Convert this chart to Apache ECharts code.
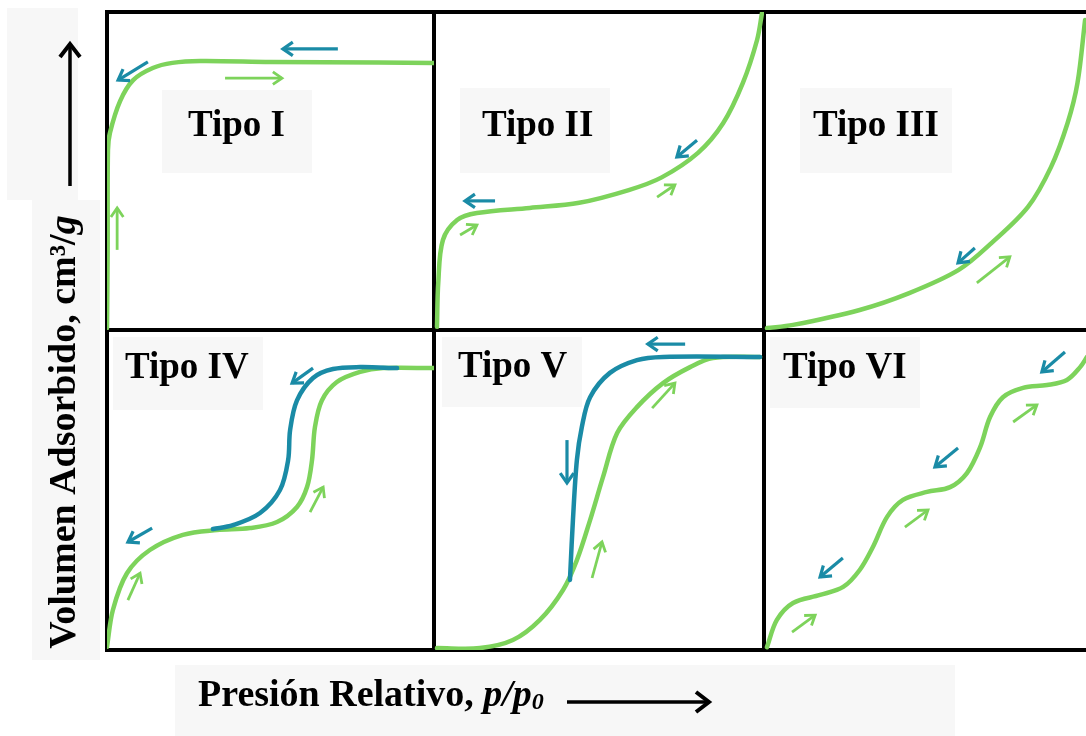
<!DOCTYPE html>
<html><head><meta charset="utf-8">
<script src="https://cdn.jsdelivr.net/npm/echarts@6/dist/echarts.min.js"></script>
<style>html,body{margin:0;padding:0;background:#fff;overflow:hidden;width:1086px;height:736px}#c{width:1100px;height:736px}</style>
</head><body><div id="c"></div>
<script>
// ---------- DATA ----------
const panelNames = ['Tipo I', 'Tipo II', 'Tipo III', 'Tipo IV', 'Tipo V', 'Tipo VI'];
const xTitleMain = 'Presión Relativo, ';
const xTitleItalic = 'p/p';
const xTitleSub = '0';
const yTitleMain = 'Volumen Adsorbido, cm³/';
const yTitleItalic = 'g';

// adsorption curves (green), [p/p0, volume] normalised 0..1
const adsI = [[0,0.006],[0.002,0.25],[0.003,0.566],[0.009,0.62],[0.04,0.72],[0.08,0.786],[0.14,0.824],[0.2,0.84],[0.285,0.846],[0.5,0.843],[1,0.84]];
const adsII = [[0.009,0.01],[0.013,0.15],[0.027,0.283],[0.07,0.346],[0.13,0.368],[0.29,0.384],[0.44,0.40],[0.59,0.44],[0.69,0.48],[0.80,0.557],[0.876,0.65],[0.936,0.777],[0.979,0.912],[0.994,0.997]];
const adsIII = [[0.009,0.006],[0.088,0.016],[0.29,0.063],[0.44,0.116],[0.59,0.189],[0.69,0.274],[0.80,0.387],[0.87,0.513],[0.92,0.651],[0.95,0.777],[0.973,0.975]];
const adsIV = [[0,0.01],[0.018,0.125],[0.061,0.24],[0.131,0.3125],[0.232,0.36],[0.336,0.375],[0.437,0.381],[0.52,0.40],[0.581,0.447],[0.612,0.51],[0.627,0.594],[0.636,0.697],[0.657,0.78],[0.703,0.8375],[0.774,0.869],[0.844,0.881],[1,0.881]];
const adsV = [[0.009,0.006],[0.139,0.006],[0.239,0.031],[0.321,0.094],[0.391,0.1875],[0.433,0.281],[0.473,0.406],[0.512,0.54],[0.555,0.678],[0.615,0.759],[0.694,0.834],[0.776,0.884],[0.845,0.9125],[0.988,0.916]];
const adsVI = [[0.009,0.009],[0.039,0.094],[0.088,0.147],[0.17,0.172],[0.24,0.197],[0.29,0.25],[0.33,0.322],[0.373,0.416],[0.421,0.469],[0.494,0.494],[0.564,0.509],[0.615,0.553],[0.655,0.634],[0.685,0.728],[0.724,0.79],[0.785,0.819],[0.858,0.828],[0.918,0.844],[0.958,0.884],[0.979,0.916]];

// desorption curves (blue)
const desIV = [[0.324,0.378],[0.385,0.39],[0.468,0.428],[0.529,0.50],[0.554,0.594],[0.56,0.6875],[0.581,0.78],[0.63,0.85],[0.691,0.878],[0.774,0.884],[0.887,0.881]];
const desV = [[0.412,0.219],[0.421,0.406],[0.433,0.594],[0.448,0.697],[0.473,0.79],[0.533,0.866],[0.615,0.906],[0.694,0.916],[0.988,0.916]];

// direction arrows [x1, y1, x2, y2] (tail -> head)
const arrAdsI = [[0.361,0.792,0.535,0.792],[0.031,0.252,0.031,0.384]];
const arrDesI = [[0.706,0.884,0.538,0.884],[0.125,0.843,0.034,0.786]];
const arrAdsII = [[0.079,0.299,0.13,0.33],[0.676,0.418,0.73,0.456]];
const arrDesII = [[0.185,0.406,0.094,0.406],[0.797,0.597,0.736,0.544]];
const arrAdsIII = [[0.645,0.148,0.745,0.23]];
const arrDesIII = [[0.639,0.258,0.588,0.211]];
const arrAdsIV = [[0.621,0.431,0.661,0.509],[0.064,0.156,0.101,0.24]];
const arrDesIV = [[0.63,0.881,0.566,0.834],[0.138,0.381,0.064,0.3375]];
const arrAdsV = [[0.661,0.756,0.73,0.834],[0.479,0.225,0.509,0.3375]];
const arrDesV = [[0.761,0.956,0.648,0.956],[0.403,0.656,0.403,0.522]];
const arrAdsVI = [[0.755,0.7125,0.827,0.766],[0.427,0.384,0.497,0.4375],[0.085,0.056,0.155,0.109]];
const arrDesVI = [[0.912,0.931,0.842,0.869],[0.588,0.631,0.518,0.572],[0.239,0.2875,0.17,0.228]];

// ---------- STYLE / LAYOUT ----------
const GREEN = '#7dd35b', BLUE = '#1a8ba6';
const FONT = '"Liberation Serif","Times New Roman",serif';
const colLeft = [107, 434, 764], colWidth = [327, 330, 330];
const rowTop = [12, 330], rowHeight = [318, 320];
const labelPos = [[188,126],[482,126],[813,126],[125,368],[458,367],[783,368]];
const labelBoxes = [[162,90,150,83],[460,88,150,85],[800,88,152,85],[113,337,150,73],[442,337,140,70],[770,337,150,71]];

const panels = [
  {ads: adsI, des: null, aA: arrAdsI, aD: arrDesI},
  {ads: adsII, des: null, aA: arrAdsII, aD: arrDesII},
  {ads: adsIII, des: null, aA: arrAdsIII, aD: arrDesIII},
  {ads: adsIV, des: desIV, aA: arrAdsIV, aD: arrDesIV},
  {ads: adsV, des: desV, aA: arrAdsV, aD: arrDesV},
  {ads: adsVI, des: null, aA: arrAdsVI, aD: arrDesVI}
];

// smooth curve through the data points (chord-scaled cubic Hermite), coords via the axes
function curveRenderer(color, lw) {
  return function (params, api) {
    if (params.dataIndexInside !== 0) return null;
    const n = params.dataInsideLength;
    const P = [];
    for (let k = 0; k < n; k++) P.push(api.coord([api.value(0, k), api.value(1, k)]));
    const dist = (a, b) => Math.hypot(b[0] - a[0], b[1] - a[1]) || 1e-6;
    const tan = [];
    for (let k = 0; k < n; k++) {
      if (k === 0) { const d = dist(P[0], P[1]); tan.push([(P[1][0] - P[0][0]) / d, (P[1][1] - P[0][1]) / d]); }
      else if (k === n - 1) { const d = dist(P[n - 2], P[n - 1]); tan.push([(P[n - 1][0] - P[n - 2][0]) / d, (P[n - 1][1] - P[n - 2][1]) / d]); }
      else {
        const d = dist(P[k - 1], P[k]) + dist(P[k], P[k + 1]);
        tan.push([(P[k + 1][0] - P[k - 1][0]) / d, (P[k + 1][1] - P[k - 1][1]) / d]);
      }
    }
    let d = 'M' + P[0][0].toFixed(2) + ' ' + P[0][1].toFixed(2);
    for (let k = 0; k < n - 1; k++) {
      const s = dist(P[k], P[k + 1]) / 3;
      const c1 = [P[k][0] + tan[k][0] * s, P[k][1] + tan[k][1] * s];
      const c2 = [P[k + 1][0] - tan[k + 1][0] * s, P[k + 1][1] - tan[k + 1][1] * s];
      d += ' C' + c1[0].toFixed(2) + ' ' + c1[1].toFixed(2) + ' ' + c2[0].toFixed(2) + ' ' + c2[1].toFixed(2) + ' ' + P[k + 1][0].toFixed(2) + ' ' + P[k + 1][1].toFixed(2);
    }
    return {type: 'path', shape: {pathData: d}, style: {stroke: color, lineWidth: lw, fill: 'none', lineCap: 'round', lineJoin: 'round'}};
  };
}

function arrowRenderer(color, lw, headLen) {
  return function (params, api) {
    const p1 = api.coord([api.value(0), api.value(1)]);
    const p2 = api.coord([api.value(2), api.value(3)]);
    const ang = Math.atan2(p2[1] - p1[1], p2[0] - p1[0]);
    const a = 0.6;
    const h1 = [p2[0] - headLen * Math.cos(ang - a), p2[1] - headLen * Math.sin(ang - a)];
    const h2 = [p2[0] - headLen * Math.cos(ang + a), p2[1] - headLen * Math.sin(ang + a)];
    return {
      type: 'group',
      children: [
        {type: 'polyline', shape: {points: [p1, p2]}, style: {stroke: color, lineWidth: lw, fill: null}},
        {type: 'polyline', shape: {points: [h1, p2, h2]}, style: {stroke: color, lineWidth: lw, fill: null, lineJoin: 'miter'}}
      ]
    };
  };
}

const grid = [], xAxis = [], yAxis = [], series = [];
panels.forEach((p, i) => {
  const r = Math.floor(i / 3), c = i % 3;
  grid.push({left: colLeft[c], top: rowTop[r], width: colWidth[c], height: rowHeight[r],
    show: true, borderColor: '#000', borderWidth: 4, backgroundColor: 'transparent', containLabel: false});
  xAxis.push({type: 'value', gridIndex: i, min: 0, max: 1, show: false});
  yAxis.push({type: 'value', gridIndex: i, min: 0, max: 1, show: false});
  series.push({type: 'custom', xAxisIndex: i, yAxisIndex: i, data: p.ads, encode: {x: 0, y: 1},
    renderItem: curveRenderer(GREEN, 4.5), clip: true, z: 3, silent: true});
  if (p.des) {
    series.push({type: 'custom', xAxisIndex: i, yAxisIndex: i, data: p.des, encode: {x: 0, y: 1},
      renderItem: curveRenderer(BLUE, 4.5), clip: true, z: 4, silent: true});
  }
  series.push({type: 'custom', xAxisIndex: i, yAxisIndex: i, data: p.aA, encode: {x: [0, 2], y: [1, 3]},
    renderItem: arrowRenderer(GREEN, 2.8, 11), clip: false, z: 5, silent: true});
  series.push({type: 'custom', xAxisIndex: i, yAxisIndex: i, data: p.aD, encode: {x: [0, 2], y: [1, 3]},
    renderItem: arrowRenderer(BLUE, 3.2, 12), clip: false, z: 5, silent: true});
});

const graphic = [];
// light grey label backdrops
const BOX = '#f7f7f7';
[[7,8,71,192],[32,200,68,460],[175,665,780,71]].concat(labelBoxes).forEach(b => {
  graphic.push({type: 'rect', shape: {x: b[0], y: b[1], width: b[2], height: b[3]}, style: {fill: BOX}, z: -10, silent: true});
});
panelNames.forEach((t, i) => {
  graphic.push({type: 'text', x: labelPos[i][0], y: labelPos[i][1], z: 20, silent: true,
    style: {text: t, font: 'bold 37px ' + FONT, fill: '#000', textAlign: 'left', textVerticalAlign: 'middle'}});
});
// x title
graphic.push({type: 'text', x: 198, y: 696, z: 20, silent: true,
  style: {
    text: '{a|' + xTitleMain + '}{b|' + xTitleItalic + '}{c|' + xTitleSub + '}',
    textAlign: 'left', textVerticalAlign: 'middle',
    rich: {
      a: {fontFamily: FONT, fontWeight: 'bold', fontSize: 38, fill: '#000', lineHeight: 38},
      b: {fontFamily: FONT, fontWeight: 'bold', fontStyle: 'italic', fontSize: 38, fill: '#000', lineHeight: 38},
      c: {fontFamily: FONT, fontWeight: 'bold', fontStyle: 'italic', fontSize: 24, fill: '#000', lineHeight: 17, verticalAlign: 'bottom'}
    }
  }});
// y title (rotated)
graphic.push({type: 'text', x: 65, y: 432, rotation: Math.PI / 2, z: 20, silent: true,
  style: {
    text: '{a|' + yTitleMain + '}{b|' + yTitleItalic + '}',
    textAlign: 'center', textVerticalAlign: 'middle',
    rich: {
      a: {fontFamily: FONT, fontWeight: 'bold', fontSize: 38, fill: '#000'},
      b: {fontFamily: FONT, fontWeight: 'bold', fontStyle: 'italic', fontSize: 38, fill: '#000'}
    }
  }});
// axis direction arrows
graphic.push({type: 'polyline', shape: {points: [[70, 186], [70, 45]]}, style: {stroke: '#000', lineWidth: 3.5, fill: null}, z: 20, silent: true});
graphic.push({type: 'polyline', shape: {points: [[60, 57], [70, 44], [80, 57]]}, style: {stroke: '#000', lineWidth: 4, fill: null}, z: 20, silent: true});
graphic.push({type: 'polyline', shape: {points: [[567, 702], [708, 702]]}, style: {stroke: '#000', lineWidth: 3.5, fill: null}, z: 20, silent: true});
graphic.push({type: 'polyline', shape: {points: [[696, 692], [709, 702], [696, 712]]}, style: {stroke: '#000', lineWidth: 4, fill: null}, z: 20, silent: true});

const chart = echarts.init(document.getElementById('c'), null, {renderer: 'canvas', width: 1100, height: 736});
chart.setOption({animation: false, backgroundColor: '#fff', grid, xAxis, yAxis, series, graphic});
</script></body></html>
